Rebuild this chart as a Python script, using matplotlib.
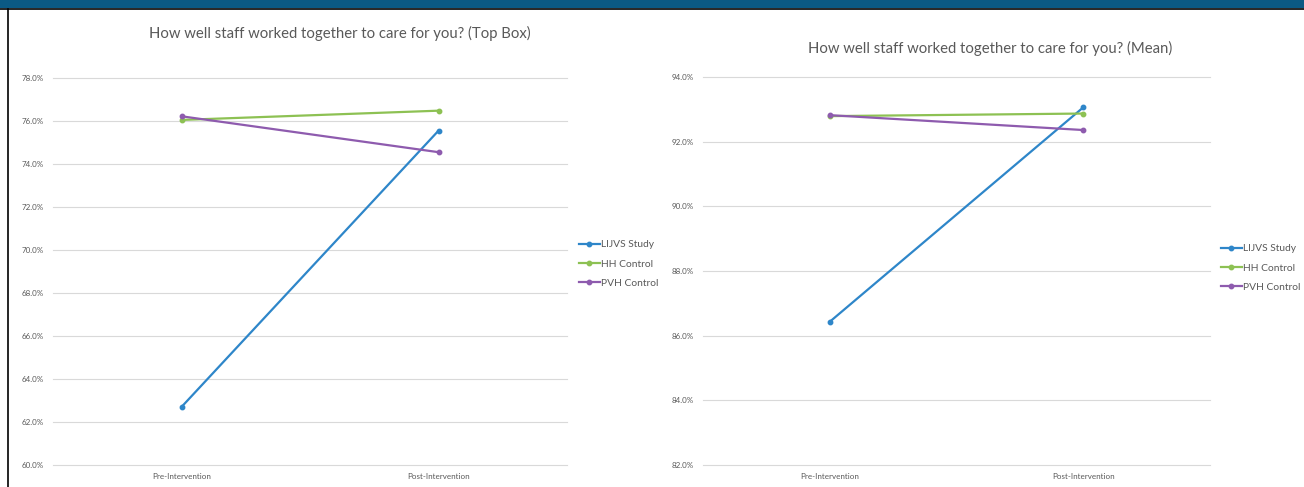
import matplotlib
matplotlib.use("Agg")
import matplotlib.pyplot as plt
from matplotlib.patches import Rectangle
from matplotlib.lines import Line2D
from matplotlib.ticker import FuncFormatter

plt.rcParams['font.family'] = ['Lato', 'DejaVu Sans']

categories = ["Pre-Intervention", "Post-Intervention"]
series_names = ["LIJVS Study", "HH Control", "PVH Control"]

topbox_lijvs = [62.7, 75.55]
topbox_hh = [76.05, 76.48]
topbox_pvh = [76.22, 74.55]

mean_lijvs = [86.43, 93.06]
mean_hh = [92.79, 92.87]
mean_pvh = [92.82, 92.36]

colors = ["#2E86C9", "#8DC153", "#8E5BAE"]

W, H = 1304, 487
fig = plt.figure(figsize=(W / 100, H / 100), dpi=100)

def fx(px):
    return px / W

def fy(py):
    return 1 - py / H

# header bar and frame
fig.patches.append(Rectangle((0, fy(8)), 1, 8 / H, transform=fig.transFigure,
                             facecolor="#0B5A84", edgecolor="none", zorder=0))
fig.lines.append(Line2D([0, 1], [fy(8.5), fy(8.5)], transform=fig.transFigure,
                        color="black", lw=1.2))
fig.lines.append(Line2D([fx(8), fx(8)], [0, fy(8.5)], transform=fig.transFigure,
                        color="black", lw=1.2))


def make_panel(rect, values, ylim, title, title_pos, legend_pos):
    ax = fig.add_axes(rect)
    x = list(range(len(categories)))
    for name, vals, c in zip(series_names, values, colors):
        ax.plot(x, vals, color=c, lw=1.6, marker="o", ms=3.2, label=name, zorder=3)
    ax.set_xlim(-0.5, len(categories) - 0.5)
    ax.set_ylim(*ylim)
    ax.set_yticks([v for v in range(int(ylim[0]), int(ylim[1]) + 1, 2)])
    ax.yaxis.set_major_formatter(FuncFormatter(lambda v, p: f"{v:.1f}%"))
    ax.set_xticks(x)
    ax.set_xticklabels(categories)
    ax.tick_params(axis="both", length=0, labelsize=5.8, labelcolor="#595959")
    ax.tick_params(axis="y", pad=7)
    ax.tick_params(axis="x", pad=6)
    ax.grid(axis="y", color="#D9D9D9", lw=0.8)
    for gl in ax.get_ygridlines():
        gl.set_clip_on(False)
    ax.set_axisbelow(True)
    for s in ax.spines.values():
        s.set_visible(False)
    fig.text(fx(title_pos[0]), fy(title_pos[1]), title, ha="center", va="center",
             fontsize=10.7, color="#595959")
    handles, labels = ax.get_legend_handles_labels()
    fig.legend(handles, labels, loc="center left",
               bbox_to_anchor=(fx(legend_pos[0]), fy(legend_pos[1])),
               frameon=False, fontsize=7.4, labelcolor="#595959",
               handlelength=2.0, handletextpad=0.15, labelspacing=1.0,
               borderaxespad=0, borderpad=0)
    return ax


make_panel([fx(53), fy(465), fx(567) - fx(53), fy(78) - fy(465)],
           [topbox_lijvs, topbox_hh, topbox_pvh], (60, 78),
           "How well staff worked together to care for you? (Top Box)",
           (340, 33), (579, 264))

make_panel([fx(703), fy(465), fx(1210) - fx(703), fy(77) - fy(465)],
           [mean_lijvs, mean_hh, mean_pvh], (82, 94),
           "How well staff worked together to care for you? (Mean)",
           (990, 48), (1221, 268))

fig.savefig("out.png", dpi=100)
